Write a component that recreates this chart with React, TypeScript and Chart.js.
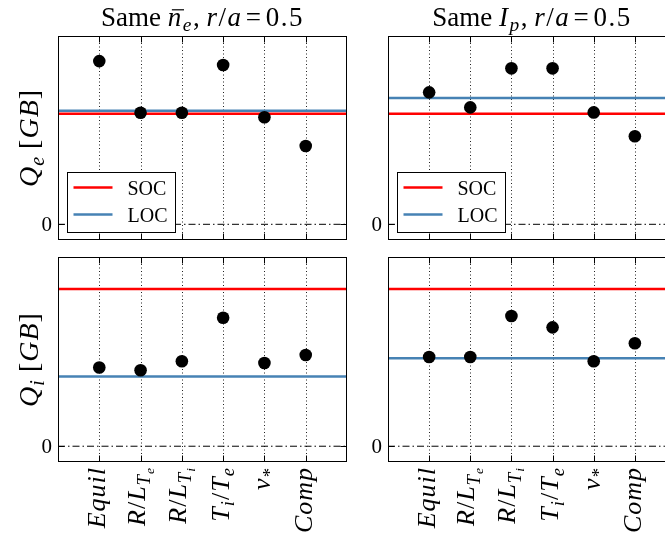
import React, { useEffect, useRef } from 'react';
import { Chart, registerables } from 'chart.js';
Chart.register(...registerables);

// ---------- data ----------
const categories = ['$Equil$', '$R/L_{T_e}$', '$R/L_{T_i}$', '$T_i/T_e$', '$ν_*$', '$Comp$'];
const columnTitles = ['Same $\\bar{n}_e$, $r/a=0.5$', 'Same $I_p$, $r/a=0.5$'];
const rowYLabels = ['$Q_e$ $[GB]$', '$Q_i$ $[GB]$'];
const yTickValues = [0];
const yTickLabels = ['0'];
const legendLabels = ['SOC', 'LOC'];

const qeSameNe = [10.4, 7.11, 7.11, 10.15, 6.82, 4.99];
const qeSameIp = [8.41, 7.45, 9.94, 9.94, 7.13, 5.61];
const qiSameNe = [4.99, 4.82, 5.39, 8.15, 5.28, 5.79];
const qiSameIp = [5.66, 5.66, 8.26, 7.54, 5.39, 6.53];
const socQe = [7.05, 7.05];
const locQe = [7.24, 8.05];
const socQi = [9.97, 9.97];
const locQi = [4.42, 5.58];
const yRange = [-1, 12];
const xRange = [-1, 6];

// ---------- layout ----------
const PANELS = [
  { row: 0, col: 0, values: qeSameNe, soc: socQe[0], loc: locQe[0], left: 0, top: 0, w: 360, h: 250, pad: { left: 58, top: 36, right: 13, bottom: 10 } },
  { row: 0, col: 1, values: qeSameIp, soc: socQe[1], loc: locQe[1], left: 360, top: 0, w: 330, h: 250, pad: { left: 28, top: 36, right: 14, bottom: 10 } },
  { row: 1, col: 0, values: qiSameNe, soc: socQi[0], loc: locQi[0], left: 0, top: 250, w: 360, h: 288, pad: { left: 58, top: 7, right: 13, bottom: 76 } },
  { row: 1, col: 1, values: qiSameIp, soc: socQi[1], loc: locQi[1], left: 360, top: 250, w: 330, h: 288, pad: { left: 28, top: 7, right: 14, bottom: 76 } },
];

const SERIF = '"Liberation Serif"';

// ---------- rich text ----------
type Seg = { t: string; it: boolean; lv: number; bar: boolean; math: boolean; pad: number };

function parseRich(src: string): Seg[] {
  const out: Seg[] = [];
  let math = false;
  const readArg = (s: string, j: number): [string, number] => {
    if (s[j] === '{') {
      let d = 1, k = j + 1;
      while (k < s.length && d > 0) {
        if (s[k] === '{') d++;
        else if (s[k] === '}') d--;
        k++;
      }
      return [s.slice(j + 1, k - 1), k];
    }
    return [s[j], j + 1];
  };
  const rec = (s: string, lv: number, bar: boolean) => {
    let i = 0;
    while (i < s.length) {
      const c = s[i];
      if (c === '$') { math = !math; i++; continue; }
      if (c === '\\') {
        let j = i + 1;
        while (j < s.length && /[a-zA-Z]/.test(s[j])) j++;
        const cmd = s.slice(i + 1, j);
        if (cmd === 'bar') { const [arg, k] = readArg(s, j); rec(arg, lv, true); i = k; }
        else i = j;
        continue;
      }
      if (c === '_' && math) { const [arg, k] = readArg(s, i + 1); rec(arg, lv + 1, bar); i = k; continue; }
      const it = math && /\p{L}/u.test(c);
      out.push({ t: c, it, lv, bar, math, pad: math && c === '=' ? 0.12 : 0 });
      i++;
    }
  };
  rec(src, 0, false);
  return out;
}

type Item = { t: string; font: string; x: number; dy: number; fs: number; w: number; bar: boolean };
function layoutRich(ctx: CanvasRenderingContext2D, segs: Seg[], size: number, mathSpacing: number) {
  let x = 0, asc = 0, desc = 0;
  const items: Item[] = [];
  for (const s of segs) {
    const fs = size * Math.pow(0.72, s.lv);
    let dy = 0;
    for (let k = 0; k < s.lv; k++) dy += 0.2 * size * Math.pow(0.72, k);
    const font = `${s.it ? 'italic ' : ''}${fs.toFixed(2)}px ${SERIF}`;
    ctx.font = font;
    const m = ctx.measureText(s.t);
    x += s.pad * size;
    items.push({ t: s.t, font, x, dy, fs, w: m.width, bar: s.bar });
    if (s.t.trim()) {
      asc = Math.max(asc, m.actualBoundingBoxAscent - dy);
      desc = Math.max(desc, m.actualBoundingBoxDescent + dy);
    }
    x += m.width + s.pad * size + (s.math && s.t.trim() ? mathSpacing : 0);
  }
  return { items, width: x, asc, desc };
}

function drawRich(ctx: CanvasRenderingContext2D, L: { items: Item[] }, x0: number, y0: number) {
  ctx.textBaseline = 'alphabetic';
  ctx.textAlign = 'left';
  ctx.fillStyle = '#000';
  for (const it of L.items) {
    ctx.font = it.font;
    ctx.fillText(it.t, x0 + it.x, y0 + it.dy);
    if (it.bar) {
      ctx.beginPath();
      ctx.strokeStyle = '#000';
      ctx.lineWidth = 1.2;
      const yb = y0 + it.dy - it.fs * 0.6;
      ctx.moveTo(x0 + it.x + it.fs * 0.15, yb);
      ctx.lineTo(x0 + it.x + it.w + it.fs * 0.1, yb);
      ctx.stroke();
    }
  }
}

// ---------- decoration plugin ----------
function decorPlugin(p: typeof PANELS[number]) {
  return {
    id: 'decor',
    beforeDatasetsDraw(chart: any) {
      const { ctx, chartArea: a, scales } = chart;
      ctx.save();
      ctx.strokeStyle = '#222';
      ctx.lineWidth = 1;
      ctx.setLineDash([1, 2.5]);
      for (let i = 0; i < categories.length; i++) {
        const x = Math.round(scales.x.getPixelForValue(i)) + 0.5;
        ctx.beginPath();
        ctx.moveTo(x, a.top);
        ctx.lineTo(x, a.bottom);
        ctx.stroke();
      }
      ctx.restore();
    },
    afterDatasetsDraw(chart: any) {
      const { ctx, chartArea: a, scales } = chart;
      ctx.save();
      ctx.setLineDash([]);
      // legend
      if (p.row === 0) {
        const bx = Math.round(a.left + 9) + 0.5;
        const by = Math.round(a.bottom - 68) + 0.5;
        const bw = 108, bh = 60;
        ctx.fillStyle = '#fff';
        ctx.fillRect(bx, by, bw, bh);
        ctx.strokeStyle = '#000';
        ctx.lineWidth = 1;
        ctx.strokeRect(bx, by, bw, bh);
        const colors = ['#ff0000', '#4682b4'];
        legendLabels.forEach((lab, k) => {
          const ry = by + 15 + k * 27;
          ctx.beginPath();
          ctx.strokeStyle = colors[k];
          ctx.lineWidth = 2.5;
          ctx.moveTo(bx + 6, ry);
          ctx.lineTo(bx + 45, ry);
          ctx.stroke();
          ctx.fillStyle = '#000';
          ctx.font = `20px ${SERIF}`;
          ctx.textAlign = 'left';
          ctx.textBaseline = 'alphabetic';
          ctx.fillText(lab, bx + 60, ry + 7);
        });
      }
      // frame
      ctx.strokeStyle = '#000';
      ctx.lineWidth = 1;
      const L = Math.round(a.left) + 0.5, R = Math.round(a.right) - 0.5;
      const T = Math.round(a.top) + 0.5, B = Math.round(a.bottom) - 0.5;
      ctx.strokeRect(L, T, R - L, B - T);
      // ticks
      const tl = 6;
      ctx.beginPath();
      for (let i = 0; i < categories.length; i++) {
        const x = Math.round(scales.x.getPixelForValue(i)) + 0.5;
        ctx.moveTo(x, B); ctx.lineTo(x, B - tl);
        ctx.moveTo(x, T); ctx.lineTo(x, T + tl);
      }
      yTickValues.forEach((v) => {
        const y = Math.round(scales.y.getPixelForValue(v)) + 0.5;
        ctx.moveTo(L, y); ctx.lineTo(L + tl, y);
        ctx.moveTo(R, y); ctx.lineTo(R - tl, y);
      });
      ctx.stroke();
      // y tick labels
      ctx.fillStyle = '#000';
      ctx.font = `21px ${SERIF}`;
      ctx.textAlign = 'right';
      ctx.textBaseline = 'alphabetic';
      yTickValues.forEach((v, k) => {
        const y = scales.y.getPixelForValue(v);
        ctx.fillText(yTickLabels[k], a.left - 6, y + 7);
      });
      // y label
      if (p.col === 0) {
        const lay = layoutRich(ctx, parseRich(rowYLabels[p.row]), 28, 1);
        const cy = (a.top + a.bottom) / 2;
        const bx = 44 - lay.desc;
        ctx.save();
        ctx.translate(bx, cy);
        ctx.rotate(-Math.PI / 2);
        drawRich(ctx, lay, -lay.width / 2, 0);
        ctx.restore();
      }
      // title
      if (p.row === 0) {
        const lay = layoutRich(ctx, parseRich(columnTitles[p.col]), 27, 1.5);
        const cx = (a.left + a.right) / 2;
        drawRich(ctx, lay, cx - lay.width / 2, 26);
      }
      // x tick labels
      if (p.row === 1) {
        categories.forEach((c, i) => {
          const lay = layoutRich(ctx, parseRich(c), 26, 1);
          const tx = scales.x.getPixelForValue(i);
          const base = tx + (lay.asc - lay.desc) / 2;
          ctx.save();
          ctx.translate(base, a.bottom + 5);
          ctx.rotate(-Math.PI / 2);
          drawRich(ctx, lay, -lay.width, 0);
          ctx.restore();
        });
      }
      ctx.restore();
    },
  };
}

function Panel({ cfg }: { cfg: typeof PANELS[number] }) {
  const ref = useRef<HTMLCanvasElement>(null);
  useEffect(() => {
    const canvas = ref.current;
    if (!canvas) return;
    const line = (v: number) => [{ x: xRange[0], y: v }, { x: xRange[1], y: v }];
    const chart = new Chart(canvas, {
      type: 'scatter',
      data: {
        datasets: [
          {
            label: 'data',
            data: cfg.values.map((v, i) => ({ x: i, y: v })),
            pointRadius: 6.3,
            pointHoverRadius: 6.3,
            backgroundColor: '#000',
            borderColor: '#000',
            borderWidth: 0,
            order: 0,
          },
          {
            label: legendLabels[1],
            data: line(cfg.loc),
            showLine: true,
            borderColor: '#4682b4',
            borderWidth: 2.5,
            pointRadius: 0,
            order: 1,
          },
          {
            label: legendLabels[0],
            data: line(cfg.soc),
            showLine: true,
            borderColor: '#ff0000',
            borderWidth: 2.5,
            pointRadius: 0,
            order: 2,
          },
          {
            label: 'zero',
            data: line(0),
            showLine: true,
            borderColor: '#000',
            borderWidth: 1,
            borderDash: [7, 3, 1.5, 3],
            pointRadius: 0,
            order: 3,
          },
        ] as any,
      },
      options: {
        animation: false,
        responsive: false,
        devicePixelRatio: 1,
        events: [],
        layout: { padding: cfg.pad, autoPadding: false } as any,
        scales: {
          x: { type: 'linear', min: xRange[0], max: xRange[1], display: false },
          y: { type: 'linear', min: yRange[0], max: yRange[1], display: false },
        },
        plugins: { legend: { display: false }, tooltip: { enabled: false } },
      },
      plugins: [decorPlugin(cfg)],
    });
    return () => chart.destroy();
  }, []);
  return (
    <canvas
      ref={ref}
      width={cfg.w}
      height={cfg.h}
      style={{ position: 'absolute', left: cfg.left, top: cfg.top, width: cfg.w, height: cfg.h }}
    />
  );
}

export default function App() {
  return (
    <div style={{ position: 'absolute', left: 0, top: 0, width: 665, height: 538, overflow: 'hidden', background: '#fff' }}>
      {PANELS.map((p, i) => (
        <Panel key={i} cfg={p} />
      ))}
    </div>
  );
}
